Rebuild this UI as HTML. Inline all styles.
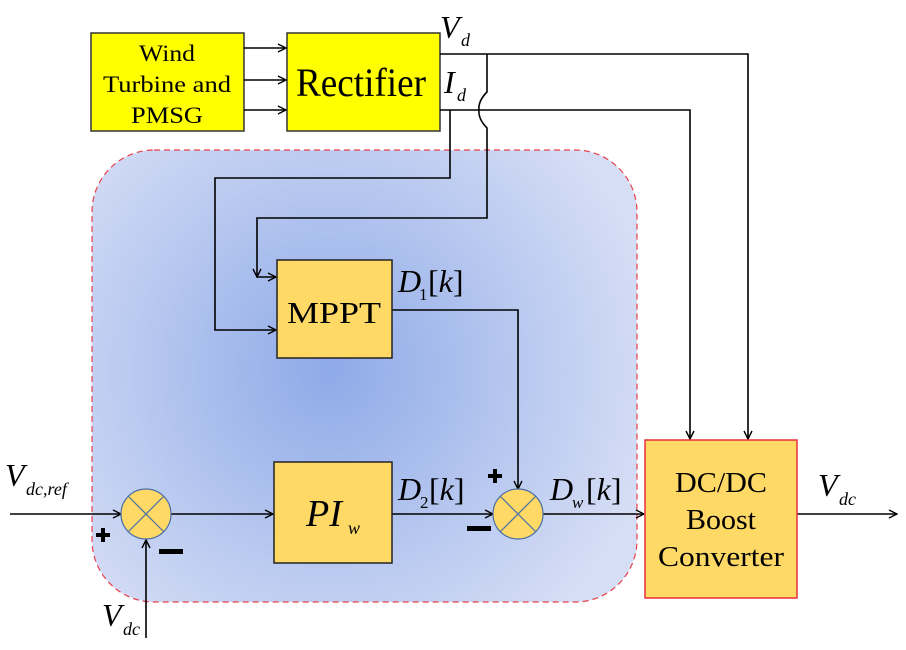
<!DOCTYPE html>
<html><head><meta charset="utf-8"><style>
html,body{margin:0;padding:0;background:#fff;}
svg{display:block;}
text{font-family:"Liberation Serif",serif;fill:#000;}
</style></head><body>
<svg width="906" height="650" viewBox="0 0 906 650" xmlns="http://www.w3.org/2000/svg">
<defs>
<radialGradient id="bg" cx="330" cy="370" r="330" gradientUnits="userSpaceOnUse">
<stop offset="0" stop-color="#8eaae8"/>
<stop offset="1" stop-color="#d6def5"/>
</radialGradient>
<marker id="ar" markerWidth="10" markerHeight="10" refX="9" refY="5" orient="auto" markerUnits="userSpaceOnUse">
<path d="M1,1 L9,5 L1,9" fill="none" stroke="#000" stroke-width="1.4"/>
</marker>
</defs>
<rect x="92" y="150" width="545" height="452" rx="62" fill="url(#bg)" stroke="#e8404a" stroke-width="1.2" stroke-dasharray="6,4"/>

<rect x="91" y="33" width="153" height="98" fill="#ffff00" stroke="#333" stroke-width="1.5"/>
<text x="167" y="61" font-size="23" text-anchor="middle" textLength="56" lengthAdjust="spacingAndGlyphs">Wind</text>
<text x="167" y="92" font-size="23" text-anchor="middle" textLength="128" lengthAdjust="spacingAndGlyphs">Turbine and</text>
<text x="167" y="123" font-size="23" text-anchor="middle" textLength="72" lengthAdjust="spacingAndGlyphs">PMSG</text>
<rect x="287" y="33" width="153" height="98" fill="#ffff00" stroke="#333" stroke-width="1.5"/>
<text x="361" y="96" font-size="40" text-anchor="middle" textLength="130" lengthAdjust="spacingAndGlyphs">Rectifier</text>
<g stroke="#000" stroke-width="1.6" fill="none">
<line x1="244" y1="48" x2="286" y2="48" marker-end="url(#ar)"/>
<line x1="244" y1="80" x2="286" y2="80" marker-end="url(#ar)"/>
<line x1="244" y1="110" x2="286" y2="110" marker-end="url(#ar)"/>
<polyline points="440,54 748,54 748,439" marker-end="url(#ar)"/>
<polyline points="440,110 690,110 690,439" marker-end="url(#ar)"/>
<path d="M487,54 L487,92 Q478,101 479,110 Q478,119 487,128 L487,218 L257,218 L257,277" marker-end="url(#ar)"/>
<line x1="257" y1="277" x2="276" y2="277" marker-end="url(#ar)"/>
<polyline points="450,110 450,178 215,178 215,330 276,330" marker-end="url(#ar)"/>
<polyline points="392,310 518,310 518,489" marker-end="url(#ar)"/>
<line x1="10" y1="514" x2="121" y2="514" marker-end="url(#ar)"/>
<line x1="171" y1="514" x2="273" y2="514" marker-end="url(#ar)"/>
<line x1="392" y1="514" x2="493" y2="514" marker-end="url(#ar)"/>
<line x1="543" y1="514" x2="644" y2="514" marker-end="url(#ar)"/>
<line x1="797" y1="514" x2="897" y2="514" marker-end="url(#ar)"/>
<line x1="146" y1="638" x2="146" y2="540" marker-end="url(#ar)"/>
</g>
<text x="440" y="38" font-size="32" font-style="italic">V</text><text x="461" y="46" font-size="18" font-style="italic">d</text>
<text x="444" y="93" font-size="32" font-style="italic">I</text><text x="457" y="101" font-size="18" font-style="italic">d</text>

<rect x="277" y="260" width="115" height="98" fill="#ffd966" stroke="#222" stroke-width="1.5"/>
<text x="334" y="323" font-size="31" text-anchor="middle" textLength="94" lengthAdjust="spacingAndGlyphs">MPPT</text>
<text x="398" y="292" font-size="32" font-style="italic">D</text><text x="419" y="300" font-size="17">1</text><text x="428" y="292" font-size="32">[<tspan font-style="italic">k</tspan>]</text>

<rect x="274" y="462" width="118" height="101" fill="#ffd966" stroke="#222" stroke-width="1.5"/>
<text x="306" y="526" font-size="38" font-style="italic">PI</text><text x="348" y="534" font-size="18" font-style="italic">w</text>
<text x="398" y="500" font-size="32" font-style="italic">D</text><text x="420" y="508" font-size="17">2</text><text x="429" y="500" font-size="32">[<tspan font-style="italic">k</tspan>]</text>
<text x="550" y="500" font-size="32" font-style="italic">D</text><text x="572" y="508" font-size="17" font-style="italic">w</text><text x="586" y="500" font-size="32">[<tspan font-style="italic">k</tspan>]</text>

<g stroke="#4a6fa5" stroke-width="1.2">
<circle cx="146" cy="514" r="25" fill="#ffd966"/>
<line x1="128" y1="496" x2="164" y2="532"/><line x1="164" y1="496" x2="128" y2="532"/>
<circle cx="518" cy="514" r="25" fill="#ffd966"/>
<line x1="500" y1="496" x2="536" y2="532"/><line x1="536" y1="496" x2="500" y2="532"/>
</g>
<g fill="#000">
<rect x="96" y="533" width="14" height="4"/><rect x="101" y="528" width="4" height="14"/>
<rect x="159" y="549" width="24" height="5"/>
<rect x="467" y="526" width="24" height="5"/>
<rect x="488" y="474" width="14" height="4"/><rect x="493" y="469" width="4" height="14"/>
</g>

<rect x="645" y="440" width="152" height="158" fill="#ffd966" stroke="#e8303a" stroke-width="1.5"/>
<text x="721" y="492" font-size="28" text-anchor="middle" textLength="92" lengthAdjust="spacingAndGlyphs">DC/DC</text>
<text x="721" y="529" font-size="28" text-anchor="middle" textLength="70" lengthAdjust="spacingAndGlyphs">Boost</text>
<text x="721" y="566" font-size="28" text-anchor="middle" textLength="126" lengthAdjust="spacingAndGlyphs">Converter</text>
<text x="818" y="496" font-size="32" font-style="italic">V</text><text x="839" y="505" font-size="18" font-style="italic">dc</text>
<text x="5" y="486" font-size="32" font-style="italic">V</text><text x="26" y="495" font-size="18" font-style="italic">dc,ref</text>
<text x="102" y="626" font-size="32" font-style="italic">V</text><text x="123" y="635" font-size="18" font-style="italic">dc</text>
</svg>
</body></html>
